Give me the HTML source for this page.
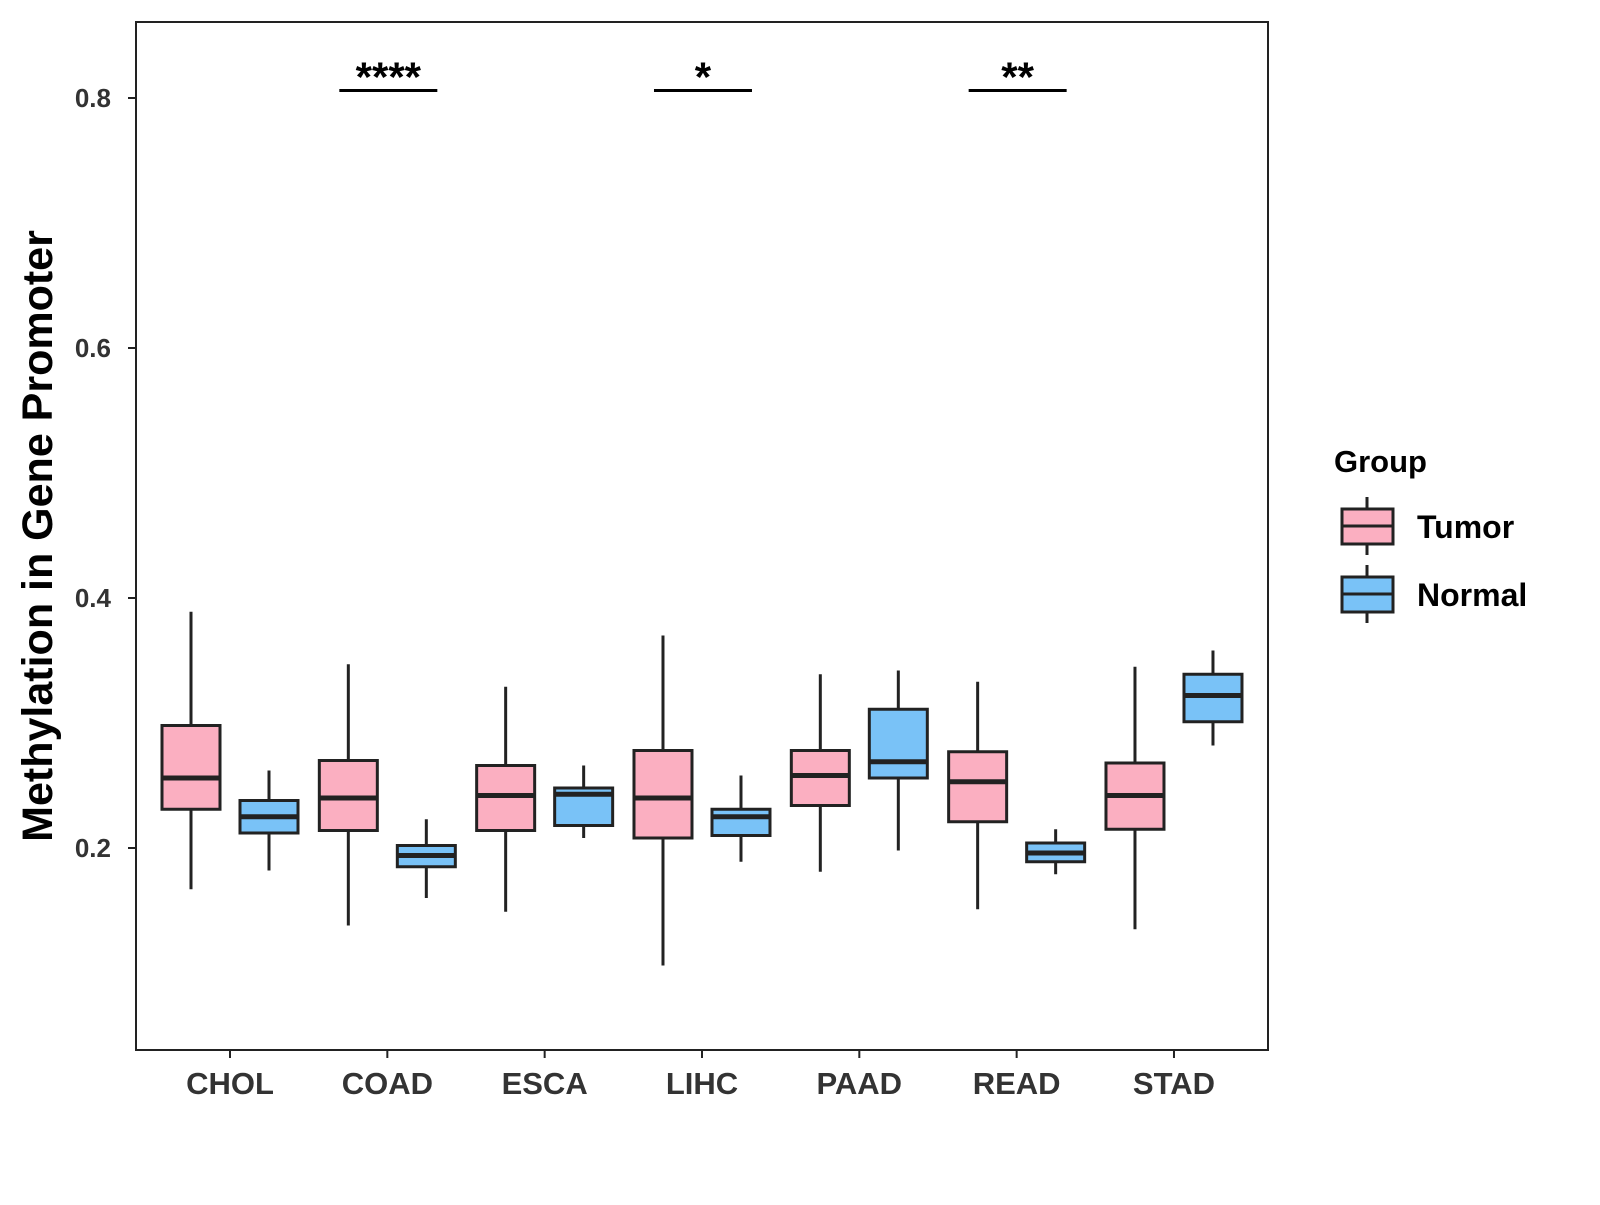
<!DOCTYPE html>
<html><head><meta charset="utf-8"><style>
body{margin:0;background:#fff;}
svg text{font-family:"Liberation Sans",Arial,sans-serif;font-weight:bold;}
</style></head><body>
<svg id="chart" width="1600" height="1200" viewBox="0 0 1600 1200" xmlns="http://www.w3.org/2000/svg">
<rect x="136" y="22" width="1132" height="1028" fill="#fff" stroke="#222" stroke-width="2"/>
<g id="yaxis"></g>
<g id="xaxis"></g>
<g id="boxes"></g>
<g id="sig"></g>
<text x="52" y="536" transform="rotate(-90 52 536)" text-anchor="middle" font-size="43" fill="#000">Methylation in Gene Promoter</text>
<g>
<text x="1334" y="472" font-size="31" fill="#000">Group</text>
<g>
<line x1="1367" y1="497" x2="1367" y2="555" stroke="#222" stroke-width="3"/>
<rect x="1342" y="509" width="51" height="35" fill="#FBAFC1" stroke="#222" stroke-width="3"/>
<line x1="1342" y1="526" x2="1393" y2="526" stroke="#222" stroke-width="3"/>
<text x="1417" y="538" font-size="32" fill="#000">Tumor</text></g>
<g>
<line x1="1367" y1="565" x2="1367" y2="623" stroke="#222" stroke-width="3"/>
<rect x="1342" y="577" width="51" height="35" fill="#79C2F7" stroke="#222" stroke-width="3"/>
<line x1="1342" y1="594" x2="1393" y2="594" stroke="#222" stroke-width="3"/>
<text x="1417" y="606" font-size="32" fill="#000">Normal</text></g>
</g>
</svg>
<script>
const categories=["CHOL","COAD","ESCA","LIHC","PAAD","READ","STAD"];
// [whiskerHigh, Q3, median, Q1, whiskerLow]
const tumorStats=[[0.389,0.298,0.256,0.231,0.167],[0.347,0.270,0.240,0.214,0.138],[0.329,0.266,0.242,0.214,0.149],[0.370,0.278,0.240,0.208,0.106],[0.339,0.278,0.258,0.234,0.181],[0.333,0.277,0.253,0.221,0.151],[0.345,0.268,0.242,0.215,0.135]];
const normalStats=[[0.262,0.238,0.225,0.212,0.182],[0.223,0.202,0.194,0.185,0.160],[0.266,0.248,0.243,0.218,0.208],[0.258,0.231,0.225,0.210,0.189],[0.342,0.311,0.269,0.256,0.198],[0.215,0.204,0.196,0.189,0.179],[0.358,0.339,0.322,0.301,0.282]];
const yTicks=[0.2,0.4,0.6,0.8];
const sigCats=["COAD","LIHC","READ"];
const sigLabels=["****","*","**"];
const sigY=0.806;
const NS="http://www.w3.org/2000/svg";
function y(v){return 848-(v-0.2)*1250;}
function x(i){return 230+i*157.33;}
function mk(t,a,p){const e=document.createElementNS(NS,t);for(const k in a)e.setAttribute(k,a[k]);p.appendChild(e);return e;}
const ya=document.getElementById('yaxis'),xa=document.getElementById('xaxis'),bx=document.getElementById('boxes'),sg=document.getElementById('sig');
yTicks.forEach(v=>{
 const l=mk('line',{x1:128,x2:136,y1:y(v),y2:y(v),stroke:'#222','stroke-width':2},ya);
 
 
 const t=mk('text',{x:111,y:y(v)+9,'text-anchor':'end','font-size':26,fill:'#333'},ya);
 t.textContent=v.toFixed(1);
 
 
});
categories.forEach((c,i)=>{
 const l=mk('line',{x1:x(i),x2:x(i),y1:1050,y2:1058,stroke:'#222','stroke-width':2},xa);
 
 
 const t=mk('text',{x:x(i),y:1094,'text-anchor':'middle','font-size':31,fill:'#333'},xa);
 t.textContent=c;
 
 
 [[tumorStats[i],-39,'#FBAFC1','tumor'],[normalStats[i],39,'#79C2F7','normal']].forEach(([s,off,col,nm])=>{
  const cx=x(i)+off,w=58;
  const g=mk('g',{},bx);
  
  
  mk('line',{x1:cx,x2:cx,y1:y(s[0]),y2:y(s[4]),stroke:'#222','stroke-width':3},g);
  mk('rect',{x:cx-w/2,y:y(s[1]),width:w,height:y(s[3])-y(s[1]),fill:col,stroke:'#222','stroke-width':3},g);
  mk('line',{x1:cx-w/2,x2:cx+w/2,y1:y(s[2]),y2:y(s[2]),stroke:'#222','stroke-width':5},g);
 });
});
sigCats.forEach((c,k)=>{
 const i=categories.indexOf(c);
 const l=mk('line',{x1:x(i)-48,x2:x(i)+50,y1:y(sigY),y2:y(sigY),stroke:'#000','stroke-width':3},sg);
 
 
 const t=mk('text',{x:x(i)+1,y:y(sigY)+1,'text-anchor':'middle','font-size':42,fill:'#000'},sg);
 t.textContent=sigLabels[k];
 
 
});
</script>
</body></html>
